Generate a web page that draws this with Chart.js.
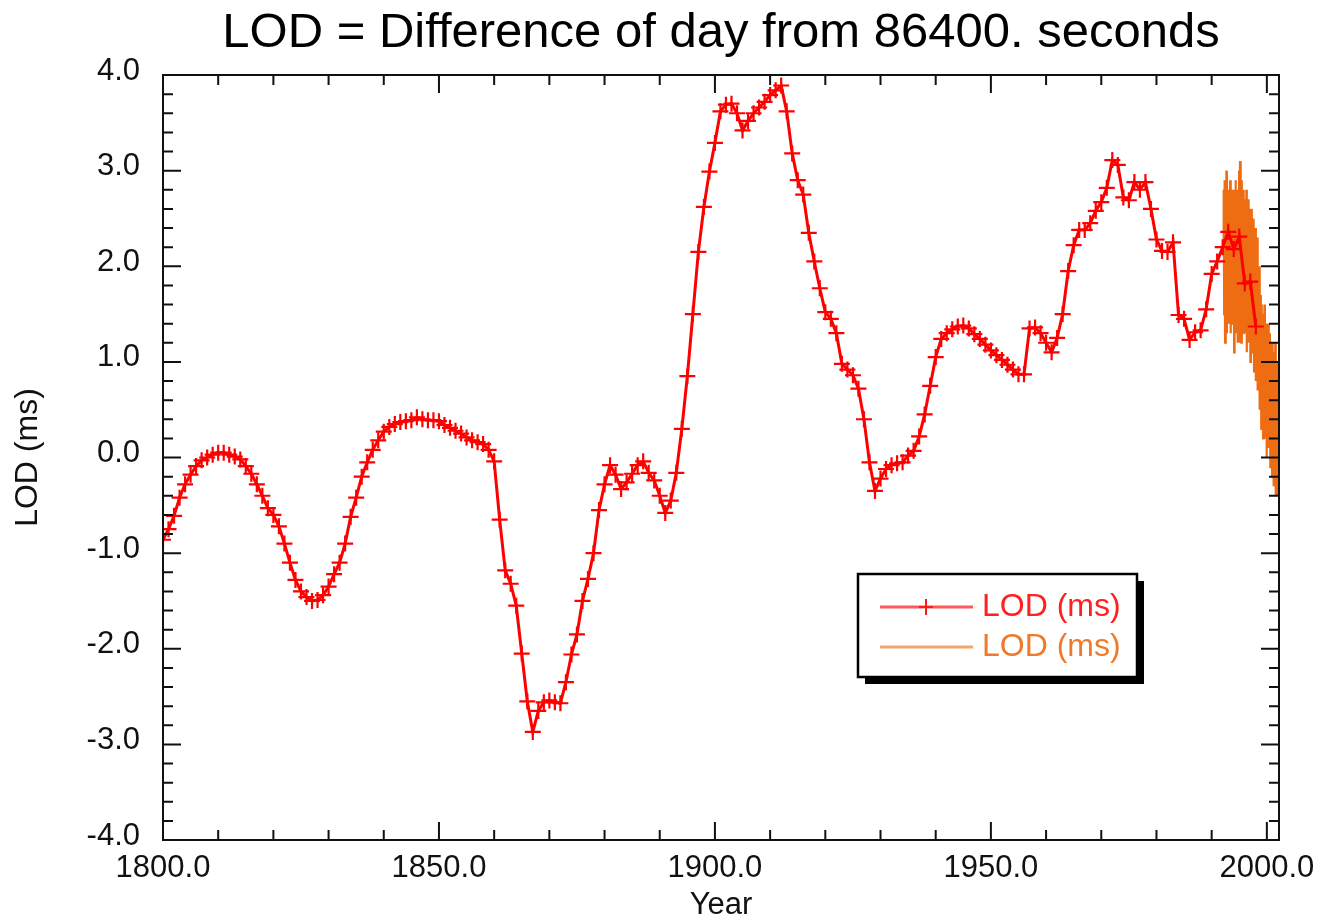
<!DOCTYPE html>
<html lang="en">
<head>
<meta charset="UTF-8">
<title>LOD</title>
<script src="https://cdn.jsdelivr.net/npm/chart.js"></script>
<style>
    body { margin: 0; background: #fff; }
    canvas { display: block; }
</style>
</head>
<body>
<canvas id="lodChart" width="1321" height="924"></canvas>
<script>
    // yearly LOD (ms), one value per year from 1800
    const redStart = 1800;
    const redLod = [
        -0.86, -0.75, -0.61, -0.42, -0.28, -0.18, -0.09, -0.03, 0.00, 0.03,
        0.05, 0.05, 0.03, 0.01, -0.02, -0.09, -0.17, -0.28, -0.40, -0.53,
        -0.60, -0.72, -0.90, -1.10, -1.28, -1.40, -1.46, -1.50, -1.49, -1.44,
        -1.35, -1.22, -1.10, -0.90, -0.62, -0.42, -0.20, -0.05, 0.08, 0.18,
        0.27, 0.32, 0.35, 0.37, 0.38, 0.39, 0.42, 0.40, 0.39, 0.39,
        0.38, 0.34, 0.31, 0.28, 0.25, 0.21, 0.18, 0.16, 0.14, 0.08,
        -0.04, -0.65, -1.18, -1.32, -1.55, -2.05, -2.55, -2.87, -2.65, -2.56,
        -2.54, -2.56, -2.57, -2.35, -2.06, -1.85, -1.50, -1.27, -1.00, -0.55,
        -0.28, -0.08, -0.18, -0.33, -0.26, -0.17, -0.08, -0.04, -0.16, -0.24,
        -0.40, -0.58, -0.45, -0.16, 0.30, 0.85, 1.50, 2.15, 2.62, 2.99,
        3.29, 3.62, 3.69, 3.70, 3.60, 3.42, 3.52, 3.60, 3.66, 3.72,
        3.79, 3.84, 3.89, 3.62, 3.18, 2.90, 2.75, 2.35, 2.05, 1.77,
        1.52, 1.45, 1.30, 0.98, 0.92, 0.86, 0.72, 0.40, -0.05, -0.35,
        -0.22, -0.12, -0.08, -0.06, -0.05, 0.02, 0.07, 0.22, 0.45, 0.75,
        1.05, 1.24, 1.30, 1.34, 1.37, 1.38, 1.35, 1.29, 1.24, 1.18,
        1.12, 1.07, 1.02, 0.97, 0.92, 0.87, 0.87, 1.35, 1.36, 1.30,
        1.20, 1.10, 1.25, 1.50, 1.95, 2.22, 2.38, 2.38, 2.45, 2.58,
        2.67, 2.82, 3.11, 3.06, 2.72, 2.69, 2.88, 2.80, 2.88, 2.60,
        2.28, 2.16, 2.15, 2.25, 1.49, 1.45, 1.23, 1.31, 1.33, 1.55,
        1.92, 2.05, 2.20, 2.36, 2.18, 2.31, 1.82, 1.84, 1.37
    ];

    // dense recent LOD series (orange), sampled every ~0.082 yr from 1992.1
    const orangeStart = 1992.1;
    const orangeStep = 0.082;
    const orangeLod = [
        2.2, 2.8, 1.5, 2.9, 1.2, 2.6, 1.6, 3.0, 1.3, 2.7, 1.9, 2.8,
        1.4, 2.5, 1.5, 2.9, 1.3, 2.6, 2.0, 2.8, 1.4, 2.4, 1.6, 2.8,
        1.1, 2.7, 1.5, 2.9, 1.3, 2.5, 1.8, 2.8, 1.2, 2.6, 1.6, 3.0,
        1.2, 3.1, 1.5, 2.7, 1.2, 2.9, 1.7, 2.6, 1.3, 2.8, 1.6, 2.7,
        1.3, 2.6, 1.5, 2.8, 1.1, 2.5, 1.7, 2.7, 1.2, 2.4, 1.4, 2.6,
        1.0, 2.5, 1.3, 2.6, 1.1, 2.3, 1.5, 2.5, 0.9, 2.3, 1.3, 2.4,
        0.8, 2.2, 1.0, 2.3, 0.7, 1.9, 1.1, 2.0, 0.5, 1.8, 0.8, 1.7,
        0.3, 1.6, 0.6, 1.5, 0.2, 1.4, 0.7, 1.6, 0.2, 1.3, 0.5, 1.4,
        0.0, 1.3, 0.4, 1.4, 0.1, 1.2, 0.5, 1.3, -0.1, 1.1, 0.3, 1.2,
        -0.2, 1.2, 0.2, 1.1, -0.3, 1.0, 0.3, 1.2, -0.4, 0.9, 0.1, 1.0,
        -0.4, 0.9, 0.2
    ];

    const xTicks = [1800, 1850, 1900, 1950, 2000];
    const yTicks = [-4, -3, -2, -1, 0, 1, 2, 3, 4];
    const chartTitle = 'LOD = Difference of day from 86400. seconds';

    const FONT = "'Liberation Sans', Arial, Helvetica, sans-serif";

    const redPoints = redLod.map(function (v, i) { return { x: redStart + i, y: v }; });
    const orangePoints = orangeLod.map(function (v, i) { return { x: orangeStart + i * orangeStep, y: v }; });

    // title centred over the plot area
    const plotTitle = {
        id: 'plotTitle',
        afterDraw: function (chart) {
            const ctx = chart.ctx;
            const a = chart.chartArea;
            ctx.save();
            ctx.font = '49px ' + FONT;
            ctx.fillStyle = '#000';
            ctx.textAlign = 'center';
            ctx.textBaseline = 'middle';
            ctx.fillText(chartTitle, (a.left + a.right) / 2, 33);
            ctx.restore();
        }
    };

    // frame + inward tick marks on all four sides
    const frameTicks = {
        id: 'frameTicks',
        afterDatasetsDraw: function (chart) {
            const ctx = chart.ctx;
            const a = chart.chartArea;
            const xs = chart.scales.x;
            const ys = chart.scales.y;
            ctx.save();
            ctx.strokeStyle = '#111';
            ctx.lineWidth = 2;
            ctx.strokeRect(a.left, a.top, a.right - a.left, a.bottom - a.top);
            ctx.beginPath();
            for (let yr = 1800; yr <= 2000; yr += 10) {
                const px = xs.getPixelForValue(yr);
                const len = yr % 50 === 0 ? 18 : 10;
                ctx.moveTo(px, a.bottom); ctx.lineTo(px, a.bottom - len);
                ctx.moveTo(px, a.top); ctx.lineTo(px, a.top + len);
            }
            for (let k = -20; k <= 20; k++) {
                const py = ys.getPixelForValue(k / 5);
                const len = k % 5 === 0 ? 18 : 10;
                ctx.moveTo(a.left, py); ctx.lineTo(a.left + len, py);
                ctx.moveTo(a.right, py); ctx.lineTo(a.right - len, py);
            }
            ctx.stroke();
            ctx.restore();
        }
    };

    // boxed legend with drop shadow
    const boxLegend = {
        id: 'boxLegend',
        afterDraw: function (chart) {
            const ctx = chart.ctx;
            const bx = 858, by = 574, bw = 279, bh = 103;
            ctx.save();
            ctx.fillStyle = '#000';
            ctx.fillRect(bx + 7, by + 7, bw, bh);
            ctx.fillStyle = '#fff';
            ctx.fillRect(bx, by, bw, bh);
            ctx.strokeStyle = '#000';
            ctx.lineWidth = 2.5;
            ctx.strokeRect(bx, by, bw, bh);

            ctx.lineWidth = 3;
            ctx.strokeStyle = '#ff5a5a';
            ctx.beginPath();
            ctx.moveTo(880, 607); ctx.lineTo(973, 607);
            ctx.stroke();
            ctx.lineWidth = 2;
            ctx.strokeStyle = '#ff1a1a';
            ctx.beginPath();
            ctx.moveTo(926, 599); ctx.lineTo(926, 615);
            ctx.moveTo(919, 607); ctx.lineTo(933, 607);
            ctx.stroke();

            ctx.lineWidth = 3;
            ctx.strokeStyle = '#f5a56c';
            ctx.beginPath();
            ctx.moveTo(880, 647); ctx.lineTo(973, 647);
            ctx.stroke();

            ctx.font = '32px ' + FONT;
            ctx.textBaseline = 'middle';
            ctx.textAlign = 'left';
            ctx.fillStyle = '#ff2020';
            ctx.fillText(chart.data.datasets[0].label, 982, 607);
            ctx.fillStyle = '#f07a2c';
            ctx.fillText(chart.data.datasets[1].label, 982, 647);
            ctx.restore();
        }
    };

    new Chart(document.getElementById('lodChart'), {
        type: 'line',
        data: {
            datasets: [
                {
                    label: 'LOD (ms)',
                    data: redPoints,
                    borderColor: '#ff0000',
                    borderWidth: 3,
                    pointStyle: 'cross',
                    pointRadius: 8,
                    pointBorderWidth: 2.2,
                    pointBorderColor: '#ff0000',
                    tension: 0,
                    order: 0
                },
                {
                    label: 'LOD (ms)',
                    data: orangePoints,
                    borderColor: '#ee6c12',
                    borderWidth: 2.2,
                    pointRadius: 0,
                    tension: 0,
                    order: 1
                }
            ]
        },
        options: {
            responsive: false,
            animation: false,
            devicePixelRatio: 1,
            layout: { padding: { left: 0, right: 42, top: 75, bottom: 0 } },
            plugins: {
                legend: { display: false },
                tooltip: { enabled: false },
                title: { display: false }
            },
            scales: {
                x: {
                    type: 'linear',
                    min: 1800,
                    max: 2002.2,
                    grid: { display: false, drawTicks: false },
                    border: { display: false },
                    afterBuildTicks: function (s) { s.ticks = xTicks.map(function (v) { return { value: v }; }); },
                    afterFit: function (s) {
                        s.height = 84;
                        s.paddingLeft = 0;
                        s.paddingRight = 0;
                    },
                    ticks: {
                        padding: 10,
                        maxRotation: 0,
                        color: '#111',
                        font: { family: FONT, size: 31 },
                        callback: function (v) { return Number(v).toFixed(1); }
                    },
                    title: {
                        display: true,
                        text: 'Year',
                        color: '#111',
                        font: { family: FONT, size: 31 },
                        padding: { top: 0, bottom: 0 }
                    }
                },
                y: {
                    min: -4,
                    max: 4,
                    grid: { display: false, drawTicks: false },
                    border: { display: false },
                    afterBuildTicks: function (s) { s.ticks = yTicks.map(function (v) { return { value: v }; }); },
                    afterFit: function (s) {
                        s.width = 163;
                        s.paddingTop = 0;
                        s.paddingBottom = 0;
                    },
                    ticks: {
                        padding: 23,
                        labelOffset: -4,
                        color: '#111',
                        font: { family: FONT, size: 31 },
                        callback: function (v) { return Number(v).toFixed(1); }
                    },
                    title: {
                        display: true,
                        text: 'LOD (ms)',
                        color: '#111',
                        font: { family: FONT, size: 32 },
                        padding: { top: 9, bottom: 0 }
                    }
                }
            }
        },
        plugins: [frameTicks, boxLegend, plotTitle]
    });
</script>
</body>
</html>
